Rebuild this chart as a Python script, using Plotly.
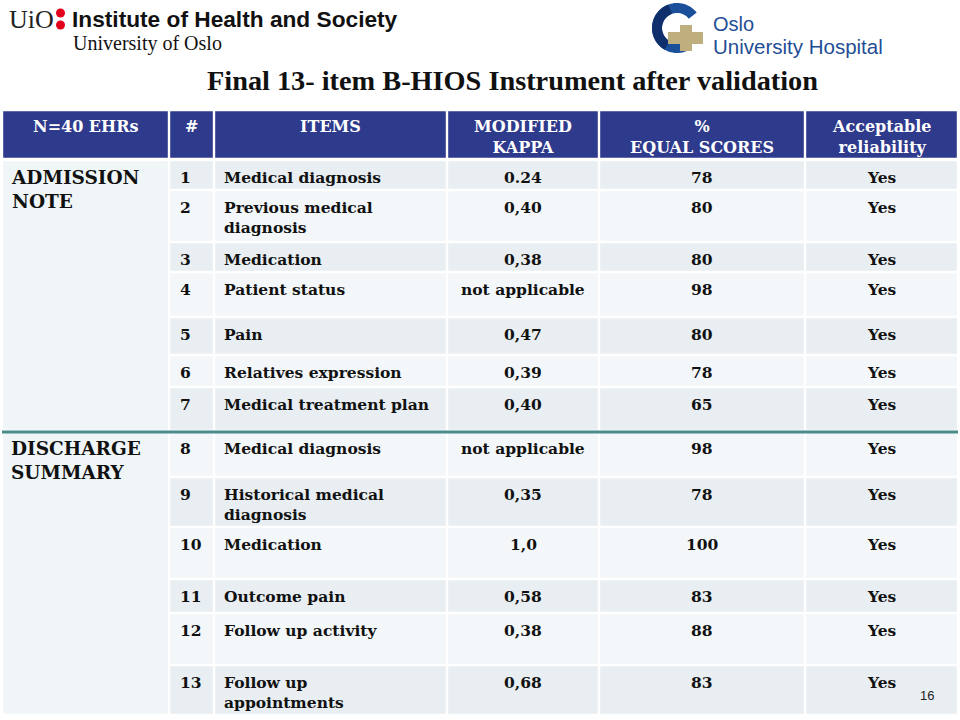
import numpy as np
import plotly.graph_objects as go

# ---------------- data ----------------
title = "Final 13- item B-HIOS Instrument after validation"
headers = ["N=40 EHRs", "#", "ITEMS", "MODIFIED<br>KAPPA", "%<br>EQUAL SCORES", "Acceptable<br>reliability"]
sections = ["ADMISSION<br>NOTE", "DISCHARGE<br>SUMMARY"]
section_sizes = [7, 6]
item_no = ["1", "2", "3", "4", "5", "6", "7", "8", "9", "10", "11", "12", "13"]
items = ["Medical diagnosis", "Previous medical<br>diagnosis", "Medication", "Patient status",
         "Pain", "Relatives expression", "Medical treatment plan",
         "Medical diagnosis", "Historical medical<br>diagnosis", "Medication",
         "Outcome pain", "Follow up activity", "Follow up<br>appointments"]
kappa = ["0.24", "0,40", "0,38", "not applicable", "0,47", "0,39", "0,40",
         "not applicable", "0,35", "1,0", "0,58", "0,38", "0,68"]
equal_scores = [78, 80, 80, 98, 80, 78, 65, 98, 78, 100, 83, 88, 83]
reliability = ["Yes", "Yes", "Yes", "Yes", "Yes", "Yes", "Yes",
               "Yes", "Yes", "Yes", "Yes", "Yes", "Yes"]

# ---------------- layout geometry ----------------
col_edges = [2, 169, 214, 447, 599, 805, 958]
header_top, header_bot = 110, 159
row_edges = [160, 190, 242, 272, 317, 355, 387, 431, 477, 527, 579, 613, 665, 715]
GAP = 1.2

HEADER_BG = "#2E3A8C"
ROW_DARK = "#E8EEF1"
ROW_LIGHT = "#F3F7F9"
SECTION_BG = "#F0F5F7"
TEAL = "#4A8B8C"
TXT = "#111111"
SERIF = "DejaVu Serif"
BODY_SIZE = 15.5

fig = go.Figure()
shapes = []
ann = []

def rect(x0, y0, x1, y1, color):
    shapes.append(dict(type="rect", xref="x", yref="y", x0=x0 + GAP, x1=x1 - GAP,
                       y0=y0 + GAP, y1=y1 - GAP, fillcolor=color, line=dict(width=0), layer="below"))

def text(x, y, s, size=16, color=TXT, family=SERIF, xanchor="center", yanchor="top", bold=True, **kw):
    ann.append(dict(x=x, y=y, xref="x", yref="y", text=(f"<b>{s}</b>" if bold else s),
                    showarrow=False, xanchor=xanchor, yanchor=yanchor,
                    align="left" if xanchor == "left" else "center",
                    font=dict(family=family, size=size, color=color), **kw))

# header
for i, h in enumerate(headers):
    x0, x1 = col_edges[i], col_edges[i + 1]
    rect(x0, header_top, x1, header_bot, HEADER_BG)
    text((x0 + x1) / 2, header_top + 5, h, size=16, color="white")

# section merged cells
start = 0
for s, n in zip(sections, section_sizes):
    y0, y1 = row_edges[start], row_edges[start + n]
    rect(col_edges[0], y0, col_edges[1], y1, SECTION_BG)
    text(col_edges[0] + 7, y0 + 5, s, size=18.5, xanchor="left")
    start += n

# body rows
for r in range(len(items)):
    y0, y1 = row_edges[r], row_edges[r + 1]
    color = ROW_DARK if r % 2 == 0 else ROW_LIGHT
    for c in range(1, 6):
        rect(col_edges[c], y0, col_edges[c + 1], y1, color)
    ty = y0 + 6
    text(col_edges[1] + 9, ty, item_no[r], size=BODY_SIZE, xanchor="left")
    text(col_edges[2] + 8, ty, items[r], size=BODY_SIZE, xanchor="left")
    text((col_edges[3] + col_edges[4]) / 2, ty, kappa[r], size=BODY_SIZE)
    text((col_edges[4] + col_edges[5]) / 2, ty, str(equal_scores[r]), size=BODY_SIZE)
    text((col_edges[5] + col_edges[6]) / 2, ty, reliability[r], size=BODY_SIZE)

# teal separator between sections
sep_y = row_edges[section_sizes[0]]
shapes.append(dict(type="line", xref="x", yref="y", x0=col_edges[0], x1=col_edges[-1],
                   y0=sep_y + 1, y1=sep_y + 1, line=dict(color=TEAL, width=3)))

# title
text(512, 80, title, size=28.3, family="Liberation Serif", yanchor="middle")

# UiO logo header
text(7, 19, "UiO", size=26, family="Liberation Serif", xanchor="left", yanchor="middle", bold=False, color="#222222")
for cy in (13, 25):
    shapes.append(dict(type="circle", xref="x", yref="y", x0=56, x1=65, y0=cy - 4.5, y1=cy + 4.5,
                       fillcolor="#E3001B", line=dict(width=0)))
text(70, 19, "Institute of Health and Society", size=22.7, family="Liberation Sans",
     xanchor="left", yanchor="middle", color="#111111")
text(71, 43, "University of Oslo", size=20, family="Liberation Serif", xanchor="left",
     yanchor="middle", bold=False, color="#111111")

# Oslo University Hospital logo: arc + cross
cx, cy, ro, ri = 677, 28, 25, 15
th = np.deg2rad(np.linspace(38, 300, 60))
outer = [(cx + ro * np.cos(t), cy - ro * np.sin(t)) for t in th]
inner = [(cx + ri * np.cos(t), cy - ri * np.sin(t)) for t in th[::-1]]
path = "M " + " L ".join(f"{x:.1f},{y:.1f}" for x, y in outer + inner) + " Z"
shapes.append(dict(type="path", xref="x", yref="y", path=path, fillcolor="#1B4F9A", line=dict(width=0)))
th2 = np.deg2rad(np.linspace(110, 240, 30))
outer2 = [(cx + ro * np.cos(t), cy - ro * np.sin(t)) for t in th2]
inner2 = [(cx + ri * np.cos(t), cy - ri * np.sin(t)) for t in th2[::-1]]
path2 = "M " + " L ".join(f"{x:.1f},{y:.1f}" for x, y in outer2 + inner2) + " Z"
shapes.append(dict(type="path", xref="x", yref="y", path=path2, fillcolor="#0E2F6B", line=dict(width=0)))
shapes.append(dict(type="rect", xref="x", yref="y", x0=680, x1=692, y0=25, y1=51,
                   fillcolor="#BFAE7E", line=dict(width=0)))
shapes.append(dict(type="rect", xref="x", yref="y", x0=668, x1=703, y0=32, y1=44,
                   fillcolor="#BFAE7E", line=dict(width=0)))
text(711, 24, "Oslo", size=20, family="Liberation Sans", xanchor="left", yanchor="middle",
     bold=False, color="#1F4E96")
text(711, 46, "University Hospital", size=20.5, family="Liberation Sans", xanchor="left",
     yanchor="middle", bold=False, color="#1F4E96")

# page number
text(927, 695, "16", size=13, family="Liberation Sans", yanchor="middle", bold=False, color="#222222")

fig.update_layout(
    width=960, height=720, margin=dict(l=0, r=0, t=0, b=0),
    paper_bgcolor="white", plot_bgcolor="white",
    xaxis=dict(range=[0, 960], visible=False, fixedrange=True),
    yaxis=dict(range=[720, 0], visible=False, fixedrange=True),
    shapes=shapes, annotations=ann, showlegend=False,
)
fig.write_html("out.html", config={"displayModeBar": False},
               post_script="document.body.style.margin='0px';")
